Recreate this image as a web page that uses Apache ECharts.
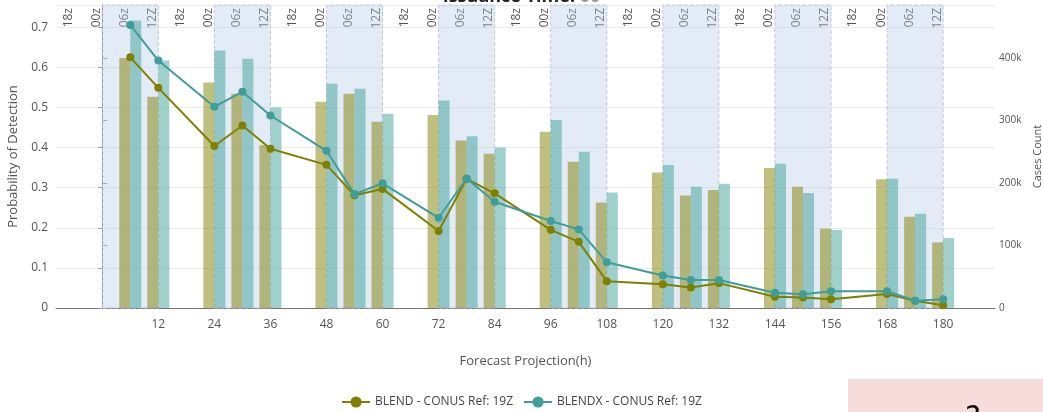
<!DOCTYPE html>
<html>
<head>
<meta charset="utf-8">
<script src="https://cdn.jsdelivr.net/npm/echarts@6/dist/echarts.min.js"></script>
<style>html,body{margin:0;padding:0;background:#fff}#c{width:1043px;height:412px}</style>
</head>
<body>
<div id="c"></div>
<script>
// ---- data ----
var hours = [6, 12, 24, 30, 36, 48, 54, 60, 72, 78, 84, 96, 102, 108, 120, 126, 132, 144, 150, 156, 168, 174, 180];
var blendPod  = [0.625, 0.549, 0.404, 0.455, 0.397, 0.357, 0.281, 0.297, 0.192, 0.322, 0.286, 0.195, 0.165, 0.067, 0.059, 0.051, 0.062, 0.028, 0.026, 0.022, 0.035, 0.018, 0.007];
var blendxPod = [0.706, 0.617, 0.502, 0.539, 0.480, 0.392, 0.284, 0.311, 0.225, 0.323, 0.265, 0.217, 0.196, 0.114, 0.081, 0.070, 0.070, 0.038, 0.034, 0.042, 0.042, 0.018, 0.022];
var blendCases  = [400000, 338000, 361000, 343000, 261000, 330000, 343000, 298000, 309000, 268000, 247000, 282000, 234000, 169000, 217000, 180000, 189000, 224000, 194000, 127000, 206000, 146000, 105000];
var blendxCases = [460000, 396000, 412000, 399000, 321000, 359000, 351000, 311000, 332000, 275000, 257000, 301000, 250000, 185000, 229000, 194000, 199000, 231000, 184000, 125000, 207000, 151000, 112000];
var xTickHours = [12, 24, 36, 48, 60, 72, 84, 96, 108, 120, 132, 144, 156, 168, 180];
var topTickHours = [-6, 0, 6, 12, 18, 24, 30, 36, 42, 48, 54, 60, 66, 72, 78, 84, 90, 96, 102, 108, 114, 120, 126, 132, 138, 144, 150, 156, 162, 168, 174, 180];
var topTickLabels = ['18z', '00z', '06z', '12Z', '18z', '00z', '06z', '12Z', '18z', '00z', '06z', '12Z', '18z', '00z', '06z', '12Z', '18z', '00z', '06z', '12Z', '18z', '00z', '06z', '12Z', '18z', '00z', '06z', '12Z', '18z', '00z', '06z', '12Z'];
var bandStarts = [0, 24, 48, 72, 96, 120, 144, 168];
var bandEnds   = [12, 36, 60, 84, 108, 132, 156, 180];
var seriesNames = ['BLEND - CONUS Ref: 19Z', 'BLENDX - CONUS Ref: 19Z'];

function pairs(xs, ys) { return xs.map(function (x, i) { return [x, ys[i]]; }); }

var FONT = '"Open Sans", "DejaVu Sans", sans-serif';
var OLIVE = '#808000';
var TEAL = '#3f9d9a';

var chart = echarts.init(document.getElementById('c'), null, { renderer: 'canvas' });
var option = {
  animation: false,
  textStyle: { fontFamily: FONT },
  title: {
    text: 'Issuance Time: {g|00}',
    left: 'center',
    top: -17,
    textStyle: {
      fontFamily: FONT, fontSize: 18, fontWeight: 'bold', color: '#222',
      rich: { g: { fontFamily: FONT, fontSize: 18, fontWeight: 'bold', color: '#999' } }
    }
  },
  grid: { left: 56, right: 48, top: 5, bottom: 104, containLabel: false, outerBoundsMode: 'none' },
  legend: {
    data: seriesNames,
    left: 'center',
    top: 391,
    itemWidth: 28,
    itemHeight: 14,
    itemGap: 10,
    textStyle: { fontFamily: FONT, fontSize: 12, color: '#444' }
  },
  xAxis: [{
    type: 'value',
    min: -9.9,
    max: 191.1,
    name: 'Forecast Projection(h)',
    nameLocation: 'middle',
    nameGap: 47,
    nameTextStyle: { fontFamily: FONT, fontSize: 13, color: '#555' },
    axisLine: { show: true, onZero: false, lineStyle: { color: '#777' } },
    axisTick: { show: false },
    splitLine: { show: false },
    axisLabel: { customValues: xTickHours, fontFamily: FONT, fontSize: 12, color: '#555', margin: 11 }
  }, {
    type: 'value',
    position: 'top',
    min: -9.9,
    max: 191.1,
    axisLine: { show: false },
    axisTick: { show: false },
    splitLine: { show: false },
    axisLabel: {
      customValues: topTickHours,
      inside: true,
      rotate: 90,
      margin: 3,
      verticalAlign: 'bottom',
      fontFamily: FONT, fontSize: 12, color: '#555',
      formatter: function (v) { var i = topTickHours.indexOf(v); return i >= 0 ? topTickLabels[i] : ''; }
    }
  }],
  yAxis: [{
    type: 'value',
    min: 0,
    max: 0.7556,
    interval: 0.1,
    name: 'Probability of Detection',
    nameLocation: 'middle',
    nameGap: 35,
    nameTextStyle: { fontFamily: FONT, fontSize: 13, color: '#555' },
    axisLine: { show: true, lineStyle: { color: '#777' } },
    axisTick: { show: true, length: 4, lineStyle: { color: '#999' } },
    splitLine: { show: true, lineStyle: { color: '#ececec' } },
    axisLabel: { showMaxLabel: false, fontFamily: FONT, fontSize: 12, color: '#555', margin: 8 }
  }, {
    type: 'value',
    position: 'right',
    min: 0,
    max: 485000,
    interval: 100000,
    name: 'Cases Count',
    nameLocation: 'middle',
    nameGap: 37,
    nameTextStyle: { fontFamily: FONT, fontSize: 11, color: '#555' },
    axisLine: { show: true, lineStyle: { color: '#777' } },
    axisTick: { show: true, length: 5, lineStyle: { color: '#999' } },
    splitLine: { show: false },
    axisLabel: {
      showMaxLabel: false,
      fontFamily: FONT, fontSize: 10, color: '#555', margin: 4,
      formatter: function (v) { return v === 0 ? '0' : (v / 1000) + 'k'; }
    }
  }],
  series: [{
    name: 'bands',
    type: 'line',
    data: [],
    z: 1,
    silent: true,
    markArea: {
      silent: true,
      itemStyle: { color: 'rgba(180,202,232,0.38)', borderColor: '#c6cbd3', borderWidth: 1, borderType: 'dashed' },
      data: bandStarts.map(function (s, i) { return [{ xAxis: s }, { xAxis: bandEnds[i] }]; })
    }
  }, {
    name: 'BLEND cases',
    type: 'bar',
    yAxisIndex: 1,
    z: 2,
    barWidth: 11,
    barGap: '0%',
    itemStyle: { color: 'rgba(128,128,0,0.5)' },
    data: pairs(hours, blendCases)
  }, {
    name: 'BLENDX cases',
    type: 'bar',
    yAxisIndex: 1,
    z: 2,
    barWidth: 11,
    barGap: '0%',
    itemStyle: { color: 'rgba(63,161,153,0.5)' },
    data: pairs(hours, blendxCases)
  }, {
    name: seriesNames[0],
    type: 'line',
    z: 3,
    symbol: 'circle',
    symbolSize: 8,
    lineStyle: { color: OLIVE, width: 2 },
    itemStyle: { color: OLIVE },
    data: pairs(hours, blendPod)
  }, {
    name: seriesNames[1],
    type: 'line',
    z: 4,
    symbol: 'circle',
    symbolSize: 8,
    lineStyle: { color: TEAL, width: 2 },
    itemStyle: { color: TEAL },
    data: pairs(hours, blendxPod)
  }],
  graphic: [{
    type: 'rect',
    left: 848, top: 379,
    shape: { width: 195, height: 40 },
    style: { fill: '#f7dcdc' },
    z: 100
  }, {
    type: 'text',
    left: 965, top: 404,
    style: { text: '?', font: '30px "DejaVu Sans", sans-serif', fill: '#111' },
    z: 101
  }]
};
chart.setOption(option);
</script>
</body>
</html>
